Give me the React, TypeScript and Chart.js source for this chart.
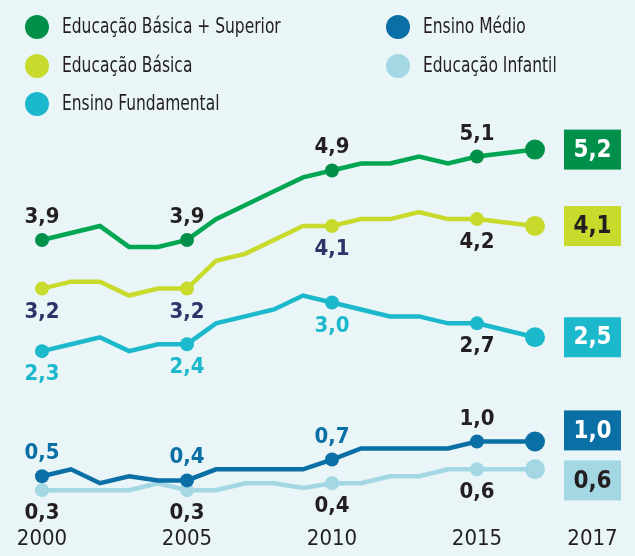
import React, { useEffect, useRef } from 'react';
import { Chart, registerables } from 'chart.js';

Chart.register(...registerables);

// ---------- data ----------
const years = [2000, 2001, 2002, 2003, 2004, 2005, 2006, 2007, 2008, 2009, 2010, 2011, 2012, 2013, 2014, 2015, 2017];
const labelYears = [2000, 2005, 2010, 2015];
const xTickYears = [2000, 2005, 2010, 2015];
const lastYearLabel = '2017';

const seriesNames = ['Educação Básica + Superior', 'Educação Básica', 'Ensino Fundamental', 'Ensino Médio', 'Educação Infantil'];
const basicaSuperior = [3.9, 4.0, 4.1, 3.8, 3.8, 3.9, 4.2, 4.4, 4.6, 4.8, 4.9, 5.0, 5.0, 5.1, 5.0, 5.1, 5.2];
const basica = [3.2, 3.3, 3.3, 3.1, 3.2, 3.2, 3.6, 3.7, 3.9, 4.1, 4.1, 4.2, 4.2, 4.3, 4.2, 4.2, 4.1];
const fundamental = [2.3, 2.4, 2.5, 2.3, 2.4, 2.4, 2.7, 2.8, 2.9, 3.1, 3.0, 2.9, 2.8, 2.8, 2.7, 2.7, 2.5];
const medio = [0.5, 0.6, 0.4, 0.5, 0.44, 0.44, 0.6, 0.6, 0.6, 0.6, 0.74, 0.9, 0.9, 0.9, 0.9, 1.0, 1.0];
const infantil = [0.3, 0.3, 0.3, 0.3, 0.4, 0.3, 0.3, 0.4, 0.4, 0.33, 0.4, 0.4, 0.5, 0.5, 0.6, 0.6, 0.6];

// ---------- styles ----------
const BG = '#eaf5f8';
const DARK = '#231f20';
const FONT = '"DejaVu Sans Condensed", "DejaVu Sans", sans-serif';

const lineColors = ['#00a651', '#c8da2b', '#1cb8cb', '#0a6fa5', '#a3d7e3'];
const markerColors = ['#00904a', '#c8da2b', '#1cb8cb', '#0a6fa5', '#a3d7e3'];
const boxTextColors = ['#ffffff', DARK, '#ffffff', '#ffffff', DARK];
const labelAbove = [true, false, false, true, false];
const labelColors = [
  [DARK, DARK, DARK, DARK],
  ['#2b3468', '#2b3468', '#2b3468', DARK],
  ['#1cb8cb', '#1cb8cb', '#1cb8cb', DARK],
  ['#0a6fa5', '#0a6fa5', '#0a6fa5', DARK],
  [DARK, DARK, DARK, DARK],
];
const allSeries = [basicaSuperior, basica, fundamental, medio, infantil];

const fmt = (v: number) => v.toFixed(1).replace('.', ',');

const overlayPlugin = {
  id: 'overlay',
  beforeDraw(chart: any) {
    const { ctx, width, height } = chart;
    ctx.save();
    ctx.fillStyle = BG;
    ctx.fillRect(0, 0, width, height);
    ctx.restore();
  },
  afterDatasetsDraw(chart: any) {
    const { ctx, chartArea } = chart;
    const xScale = chart.scales.x;
    ctx.save();

    // point value labels
    ctx.font = `bold 22px ${FONT}`;
    ctx.textAlign = 'center';
    ctx.textBaseline = 'alphabetic';
    chart.data.datasets.forEach((ds: any, i: number) => {
      const meta = chart.getDatasetMeta(i);
      labelYears.forEach((yr, k) => {
        const idx = years.indexOf(yr);
        const pt = meta.data[idx];
        ctx.fillStyle = labelColors[i][k];
        const ty = labelAbove[i] ? pt.y - 17 : pt.y + 29;
        ctx.fillText(fmt(allSeries[i][idx]), pt.x, ty);
      });
    });

    // end boxes with overlap resolution
    const boxW = 57;
    const boxH = 40;
    const gap = 10;
    const boxRight = chartArea.right - 1;
    const last = years.length - 1;
    const items = chart.data.datasets.map((ds: any, i: number) => ({
      i,
      y: chart.getDatasetMeta(i).data[last].y,
    }));
    items.sort((a: any, b: any) => a.y - b.y);
    for (let iter = 0; iter < 20; iter++) {
      let moved = false;
      for (let k = 1; k < items.length; k++) {
        const d = items[k].y - items[k - 1].y;
        if (d < boxH + gap) {
          const push = (boxH + gap - d) / 2;
          items[k].y += push;
          items[k - 1].y -= push;
          moved = true;
        }
      }
      if (!moved) break;
    }
    ctx.font = `bold 24px ${FONT}`;
    items.forEach((it: any) => {
      const x0 = boxRight - boxW;
      ctx.fillStyle = markerColors[it.i];
      ctx.fillRect(x0, it.y - boxH / 2, boxW, boxH);
      ctx.fillStyle = boxTextColors[it.i];
      ctx.textBaseline = 'middle';
      ctx.fillText(fmt(allSeries[it.i][last]), x0 + boxW / 2, it.y + 1);
    });

    // x labels
    ctx.font = `22px ${FONT}`;
    ctx.fillStyle = DARK;
    ctx.textBaseline = 'alphabetic';
    xTickYears.forEach((yr) => {
      ctx.fillText(String(yr), xScale.getPixelForValue(yr), chartArea.bottom + 34);
    });
    ctx.fillText(lastYearLabel, boxRight - boxW / 2, chartArea.bottom + 34);

    // legend (two columns, narrow type)
    const colX = [37, 398];
    const rowY = [27, 66, 104];
    ctx.font = `21px ${FONT}`;
    ctx.textAlign = 'left';
    ctx.textBaseline = 'middle';
    seriesNames.forEach((name, i) => {
      const col = i < 3 ? 0 : 1;
      const row = i < 3 ? i : i - 3;
      const cx = colX[col];
      const cy = rowY[row];
      ctx.fillStyle = markerColors[i];
      ctx.beginPath();
      ctx.arc(cx, cy, 12, 0, Math.PI * 2);
      ctx.fill();
      ctx.save();
      ctx.translate(cx + 25, cy + 1);
      ctx.scale(0.82, 1);
      ctx.fillStyle = DARK;
      ctx.fillText(name, 0, 0);
      ctx.restore();
    });
    ctx.restore();
  },
};

export default function App() {
  const ref = useRef<HTMLCanvasElement | null>(null);
  useEffect(() => {
    document.body.style.margin = '0';
    document.body.style.background = BG;
    if (!ref.current) return;
    const labelSet = new Set(labelYears.map((y) => years.indexOf(y)));
    const last = years.length - 1;
    const chart = new Chart(ref.current, {
      type: 'line',
      data: {
        datasets: allSeries.map((vals, i) => ({
          label: seriesNames[i],
          data: vals.map((v, k) => ({ x: years[k], y: v })),
          borderColor: lineColors[i],
          backgroundColor: markerColors[i],
          pointBackgroundColor: markerColors[i],
          pointBorderWidth: 0,
          borderWidth: 4.5,
          tension: 0,
          clip: false,
          pointRadius: (c: any) => (c.dataIndex === last ? 10 : labelSet.has(c.dataIndex) ? 7 : 0),
          pointHoverRadius: 0,
          fill: false,
        })),
      },
      options: {
        animation: false,
        responsive: false,
        events: [],
        layout: { padding: { left: 42, right: 13, top: 94, bottom: 45 } },
        scales: {
          x: { type: 'linear', min: 2000, max: 2020, display: false },
          y: { type: 'linear', min: 0, max: 6, display: false },
        },
        plugins: { legend: { display: false }, tooltip: { enabled: false } },
      },
      plugins: [overlayPlugin],
    });
    return () => chart.destroy();
  }, []);
  return <canvas ref={ref} width={635} height={556} style={{ display: 'block' }} />;
}
